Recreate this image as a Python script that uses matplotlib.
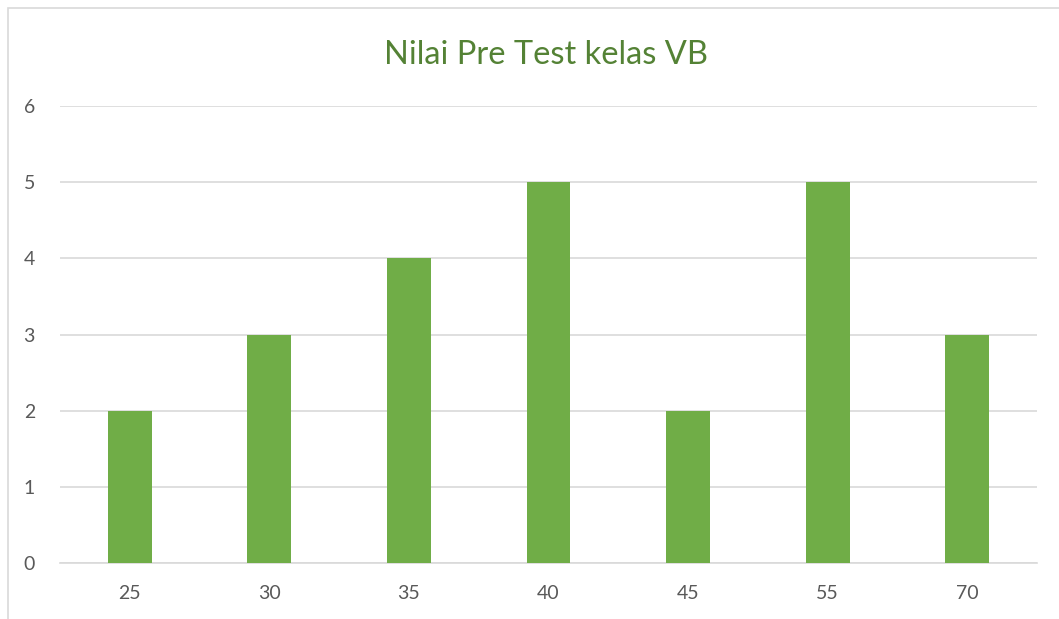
import matplotlib.pyplot as plt
from matplotlib.patches import Rectangle

categories = ['25', '30', '35', '40', '45', '55', '70']
counts = [2, 3, 4, 5, 2, 5, 3]
title = 'Nilai Pre Test kelas VB'

plt.rcParams['font.family'] = ['Lato', 'DejaVu Sans']

W, H = 1059, 619
fig = plt.figure(figsize=(W / 100, H / 100), dpi=100)

# outer chart border (clipped at right and bottom like the screenshot)
fig.patches.append(Rectangle((8 / W, -0.1), 1.2, 1 - 8 / H + 0.1,
                             transform=fig.transFigure, fill=False,
                             edgecolor='#D9D9D9', linewidth=1.2))

ax = fig.add_axes([60 / W, (H - 563) / H, (1037 - 60) / W, (563 - 106) / H])
x = range(len(categories))
ax.bar(x, counts, width=0.315, color='#70AD47', zorder=3)

ax.set_xlim(-0.5, len(categories) - 0.5)
ax.set_ylim(0, 6)
ax.set_yticks(range(0, 7))
ax.set_xticks(list(x))
ax.set_xticklabels(categories)
ax.yaxis.grid(True, color='#D9D9D9', linewidth=1.2, zorder=0)
for s in ['top', 'right', 'left']:
    ax.spines[s].set_visible(False)
ax.spines['bottom'].set_color('#D9D9D9')
ax.spines['bottom'].set_linewidth(1.2)
ax.tick_params(length=0, labelsize=14, colors='#595959')
ax.tick_params(axis='x', pad=16)
ax.tick_params(axis='y', pad=18)

fig.text(546 / W, 1 - 55 / H, title, ha='center', va='center',
         fontsize=23.5, color='#548235')

fig.savefig('out.png', dpi=100)
